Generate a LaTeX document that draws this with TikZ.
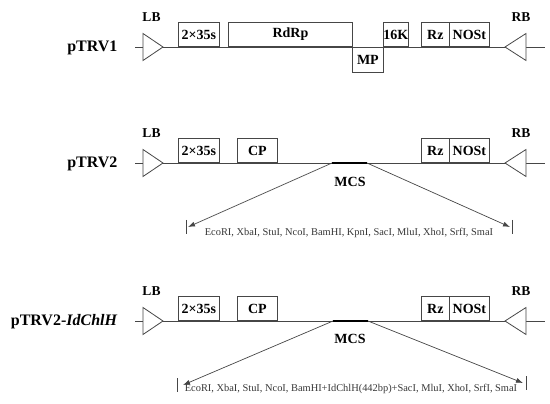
\documentclass[tikz,border=0pt]{standalone}
\usepackage{fontspec}
\setmainfont{Liberation Serif}
\usepackage{xcolor}
\definecolor{vecgray}{RGB}{70,70,70}
\definecolor{sitegray}{RGB}{55,55,55}
\usepackage{tikz}
\usetikzlibrary{arrows.meta, positioning, calc}
\tikzset{
  gene/.style={
    rectangle, draw=vecgray, fill=white, line width=0.8pt,
    minimum height=24pt, inner sep=0pt, anchor=south west,
    font=\bfseries\fontsize{14}{14}\selectfont},
  lowgene/.style={gene, anchor=north west, minimum height=25pt},
  border/.style={font=\bfseries\fontsize{13.5}{14}\selectfont},
  vecname/.style={anchor=east, font=\bfseries\fontsize{16}{18}\selectfont},
  backbone/.style={draw=vecgray, line width=0.8pt},
  borderarr/.style={draw=vecgray, fill=white, line width=0.8pt, line join=miter},
  mcsline/.style={draw=black, line width=1.4pt},
  pointer/.style={-{Latex[length=7pt, width=5pt]}, draw=vecgray, line width=0.7pt},
  ticker/.style={draw=vecgray, line width=0.8pt},
  sites/.style={text=sitegray, font=\fontsize{10.4}{12}\selectfont},
}
\begin{document}
\begin{tikzpicture}[x=1pt, y=-1pt]
  \useasboundingbox (0,0) rectangle (550,404);
  % backbones, LB / RB borders
  \foreach \r/\y in {1/47, 2/163, 3/321} {
    \coordinate (s\r) at (135,\y);
    \coordinate (e\r) at (545,\y);
    \draw[backbone] (s\r) -- (e\r);
    \draw[borderarr] (143,\y-13.5) -- (163,\y) -- (143,\y+13.5) -- cycle;
    \draw[borderarr] (526,\y-13.5) -- (505,\y) -- (526,\y+13.5) -- cycle;
    \node[border] (lb\r) at (151.5,\y-30) {LB};
    \node[border] (rb\r) at (521,\y-30) {RB};
  }
  % pTRV1
  \node[vecname] (v1) at (121,48) {pTRV1};
  \node[gene, minimum width=41pt] (ps1) at (178,47) {2×35s};
  \node[gene, minimum width=124pt] (rdrp) at (228,47) {RdRp};
  \node[lowgene, minimum width=31pt] (mp) at (352,47) {MP};
  \node[gene, minimum width=25pt] (k16) at (383,47) {16K};
  \node[gene, minimum width=28pt] (rz1) at (421,47) {Rz};
  \node[gene, minimum width=40pt] (nos1) at (449,47) {NOSt};
  % pTRV2
  \node[vecname] (v2) at (121,164) {pTRV2};
  \node[gene, minimum width=41pt] (ps2) at (178,163) {2×35s};
  \node[gene, minimum width=40pt] (cp2) at (237,163) {CP};
  \node[gene, minimum width=28pt] (rz2) at (421,163) {Rz};
  \node[gene, minimum width=40pt] (nos2) at (449,163) {NOSt};
  \coordinate (mcsl2) at (332,163);
  \coordinate (mcsr2) at (367,163);
  \draw[mcsline] (mcsl2) -- (mcsr2);
  \node[border, font=\bfseries\fontsize{14}{14}\selectfont] (mcs2) at (350,182) {MCS};
  \coordinate (tipl2) at (188,227);
  \coordinate (tipr2) at (510,227);
  \draw[pointer] (mcsl2) -- (tipl2);
  \draw[pointer] (mcsr2) -- (tipr2);
  \draw[ticker] ($(tipl2)+(-2,-7)$) -- ++(0,14);
  \draw[ticker] ($(tipr2)+(2,-7)$) -- ++(0,14);
  \node[sites] (mcs2sites) at (349,233) {EcoRI, XbaI, StuI, NcoI, BamHI, KpnI, SacI, MluI, XhoI, SrfI, SmaI};
  % pTRV2-IdChlH
  \node[vecname] (v3) at (121,322) {pTRV2-\textit{IdChlH}};
  \node[gene, minimum width=41pt] (ps3) at (178,321) {2×35s};
  \node[gene, minimum width=40pt] (cp3) at (237,321) {CP};
  \node[gene, minimum width=28pt] (rz3) at (421,321) {Rz};
  \node[gene, minimum width=40pt] (nos3) at (449,321) {NOSt};
  \coordinate (mcsl3) at (333,321);
  \coordinate (mcsr3) at (368,321);
  \draw[mcsline] (mcsl3) -- (mcsr3);
  \node[border, font=\bfseries\fontsize{14}{14}\selectfont] (mcs3) at (350,339) {MCS};
  \coordinate (tipl3) at (183,385);
  \coordinate (tipr3) at (523,383);
  \draw[pointer] (mcsl3) -- (tipl3);
  \draw[pointer] (mcsr3) -- (tipr3);
  \draw[ticker] ($(tipl3)+(-6,-7)$) -- ++(0,14);
  \draw[ticker] ($(tipr3)+(3,-7)$) -- ++(0,14);
  \node[sites] (mcs3sites) at (351,389) {EcoRI, XbaI, StuI, NcoI, BamHI+IdChlH(442bp)+SacI, MluI, XhoI, SrfI, SmaI};
\end{tikzpicture}
\end{document}
